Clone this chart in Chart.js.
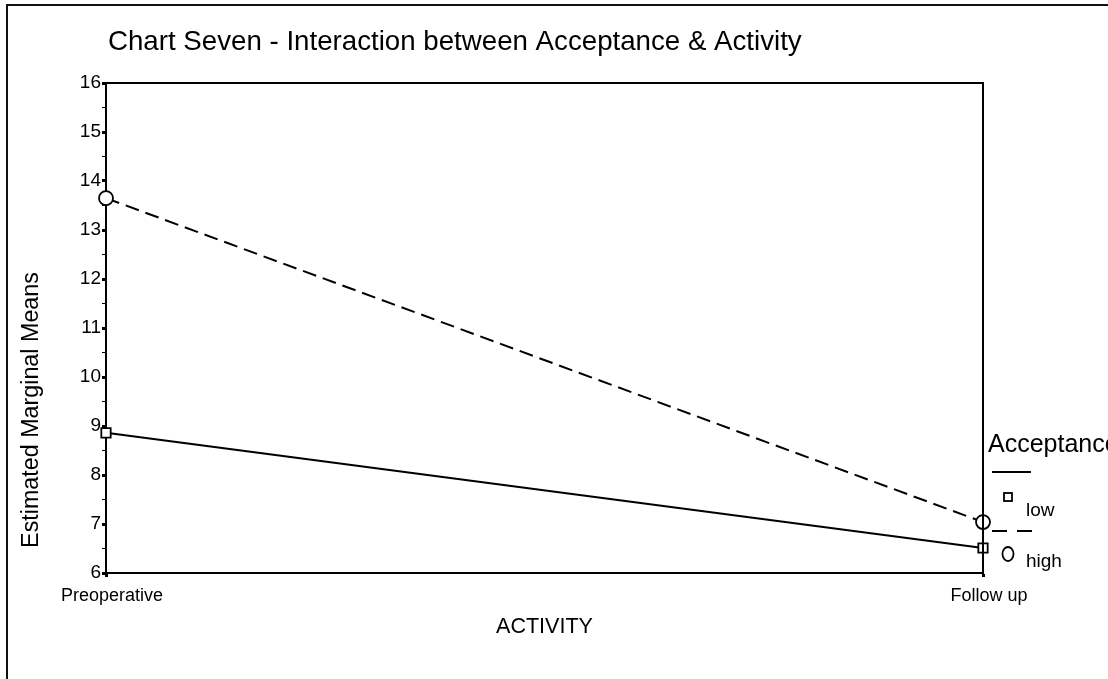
<!DOCTYPE html>
<html>
<head>
<meta charset="utf-8">
<script src="https://cdn.jsdelivr.net/npm/chart.js@4/dist/chart.umd.min.js"></script>
<style>
  html, body { margin: 0; padding: 0; background: #fff; }
  #wrap { width: 1108px; height: 679px; }
</style>
</head>
<body>
<div id="wrap"><canvas id="chart" width="1108" height="679"></canvas></div>
<script>
// --- DATA ---
const activities = ['Preoperative', 'Follow up'];
const lowMeans = [8.86, 6.51];
const highMeans = [13.65, 7.04];
const yMin = 6;
const yMax = 16;

const FONT = "'Liberation Sans', Arial, Helvetica, sans-serif";

// sets a font size so the text fits a target width (matches the scanned original)
function fitFont(ctx, text, width, base) {
  ctx.font = base + 'px ' + FONT;
  const w = ctx.measureText(text).width;
  const size = base * width / w;
  ctx.font = size + 'px ' + FONT;
  return size;
}

const decorPlugin = {
  id: 'decor',
  beforeDraw(chart) {
    const ctx = chart.ctx;
    ctx.save();
    ctx.fillStyle = '#fff';
    ctx.fillRect(0, 0, chart.width, chart.height);
    // page frame
    ctx.strokeStyle = '#111';
    ctx.lineWidth = 2;
    ctx.beginPath();
    ctx.moveTo(7, 679);
    ctx.lineTo(7, 5);
    ctx.lineTo(1108, 5);
    ctx.stroke();
    ctx.restore();
  },
  afterDraw(chart) {
    const ctx = chart.ctx;
    const area = chart.chartArea;
    ctx.save();
    // top and right sides of the plot box
    ctx.strokeStyle = '#000';
    ctx.lineWidth = 2;
    ctx.beginPath();
    ctx.moveTo(area.left, area.top);
    ctx.lineTo(area.right, area.top);
    ctx.lineTo(area.right, area.bottom);
    ctx.stroke();

    ctx.fillStyle = '#000';
    // title
    ctx.textAlign = 'left';
    ctx.textBaseline = 'alphabetic';
    fitFont(ctx, 'Chart Seven - Interaction between Acceptance & Activity', 694, 24);
    ctx.fillText('Chart Seven - Interaction between Acceptance & Activity', 108, 50);

    // y axis title
    ctx.save();
    ctx.translate(32, 410);
    ctx.rotate(-Math.PI / 2);
    ctx.textAlign = 'center';
    ctx.textBaseline = 'middle';
    fitFont(ctx, 'Estimated Marginal Means', 276, 22);
    ctx.fillText('Estimated Marginal Means', 0, 0);
    ctx.restore();

    // x axis title
    ctx.textAlign = 'center';
    ctx.textBaseline = 'middle';
    fitFont(ctx, 'ACTIVITY', 97, 21);
    ctx.fillText('ACTIVITY', (area.left + area.right) / 2, 627);

    // legend
    ctx.textAlign = 'left';
    ctx.textBaseline = 'alphabetic';
    ctx.font = '25px ' + FONT;
    ctx.fillText('Acceptance', 988, 452);

    ctx.lineWidth = 2;
    ctx.beginPath();
    ctx.moveTo(992, 472);
    ctx.lineTo(1031, 472);
    ctx.stroke();
    ctx.setLineDash([15, 10]);
    ctx.beginPath();
    ctx.moveTo(992, 531);
    ctx.lineTo(1032, 531);
    ctx.stroke();
    ctx.setLineDash([]);

    ctx.lineWidth = 1.8;
    ctx.strokeRect(1004, 493, 8, 8);
    ctx.beginPath();
    ctx.ellipse(1008, 554, 5.5, 7, 0, 0, Math.PI * 2);
    ctx.stroke();

    ctx.font = '19px ' + FONT;
    ctx.fillText('low', 1026, 516);
    ctx.fillText('high', 1026, 567);
    ctx.restore();
  }
};

new Chart(document.getElementById('chart'), {
  type: 'line',
  data: {
    labels: activities,
    datasets: [
      {
        label: 'low',
        data: lowMeans,
        borderColor: '#000',
        borderWidth: 2,
        tension: 0,
        pointStyle: 'rect',
        pointRadius: 6.6,
        pointBorderWidth: 1.8,
        pointBorderColor: '#000',
        pointBackgroundColor: '#fff',
        clip: false
      },
      {
        label: 'high',
        data: highMeans,
        borderColor: '#000',
        borderWidth: 2,
        borderDash: [14, 7],
        tension: 0,
        pointStyle: 'circle',
        pointRadius: 7,
        pointBorderWidth: 1.8,
        pointBorderColor: '#000',
        pointBackgroundColor: '#fff',
        clip: false
      }
    ]
  },
  options: {
    responsive: false,
    animation: false,
    layout: { padding: { left: 46, right: 125, top: 83, bottom: 56 } },
    plugins: {
      legend: { display: false },
      tooltip: { enabled: false },
      title: { display: false }
    },
    scales: {
      x: {
        type: 'category',
        offset: false,
        afterFit(scale) { scale.height = 50; },
        grid: {
          drawOnChartArea: false,
          tickLength: 4,
          tickWidth: 3,
          tickColor: '#000'
        },
        border: { color: '#000', width: 2 },
        ticks: {
          color: '#000',
          font: { family: FONT, size: 18 },
          padding: 8,
          labelOffset: 6,
          maxRotation: 0,
          autoSkip: false
        }
      },
      y: {
        min: yMin,
        max: yMax,
        afterFit(scale) { scale.width = 60; },
        grid: {
          drawOnChartArea: false,
          tickLength: 4,
          tickWidth: (c) => Number.isInteger(c.tick.value) ? 3 : 1,
          tickColor: '#000'
        },
        border: { color: '#000', width: 2 },
        ticks: {
          stepSize: 0.5,
          autoSkip: false,
          color: '#000',
          padding: 1,
          font: { family: FONT, size: 19 },
          callback: (v) => Number.isInteger(v) ? String(v) : ''
        }
      }
    }
  },
  plugins: [decorPlugin]
});
</script>
</body>
</html>
